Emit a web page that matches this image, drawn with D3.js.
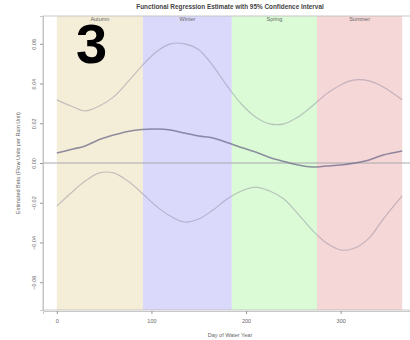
<!DOCTYPE html>
<html>
<head>
<meta charset="utf-8">
<script src="https://cdn.jsdelivr.net/npm/d3@7"></script>
<style>
  html, body { margin: 0; padding: 0; background: #fff; overflow: hidden; }
  svg { display: block; font-family: 'Liberation Sans', Arial, sans-serif; }
</style>
</head>
<body>
<div id="chart"></div>
<script>
// day of water year, sampled along the fitted curve
const days = [0, 15, 30, 45, 60, 75, 90, 105, 120, 135, 150, 165, 180, 195, 210, 225, 240, 255, 270, 285, 300, 315, 330, 345, 365]

const estimate = [0.0050, 0.0068, 0.0086, 0.0118, 0.0141, 0.0159, 0.0169, 0.0171, 0.0166, 0.0151, 0.0136, 0.0126, 0.0103,
  0.0078, 0.0055, 0.0028, 0.0008, -0.0010, -0.0020, -0.0015, -0.0010, 0.0000, 0.0015, 0.0040, 0.0060]

const upperCI = [0.0318, 0.0287, 0.0262, 0.0287, 0.0333, 0.0408, 0.0489, 0.0559, 0.0600, 0.0600, 0.0570, 0.0489, 0.0388,
  0.0297, 0.0232, 0.0197, 0.0197, 0.0232, 0.0287, 0.0348, 0.0393, 0.0418, 0.0413, 0.0383, 0.0318]

const lowerCI = [-0.0217, -0.0151, -0.0091, -0.0050, -0.0050, -0.0091, -0.0151, -0.0217, -0.0267, -0.0297, -0.0282, -0.0237, -0.0181,
  -0.0141, -0.0121, -0.0141, -0.0181, -0.0257, -0.0338, -0.0403, -0.0438, -0.0428, -0.0378, -0.0282, -0.0166]

const seasons = ['Autumn', 'Winter', 'Spring', 'Summer']
const seasonStart = [0, 91, 185, 275]
const seasonEnd = [91, 185, 275, 365]
const seasonColor = ['#f4eed8', '#dad9fb', '#dafbd6', '#f5d7d7']

const xTicks = [0, 100, 200, 300]
const yTicks = [-0.06, -0.04, -0.02, 0, 0.02, 0.04, 0.06]

const W = 410, H = 340
const plot = { left: 43, right: 416, top: 16, bottom: 310 }

const svg = d3.select('#chart').append('svg')
  .attr('width', W).attr('height', H)

// R-style 4% padding on both axes
const xScale = d3.scaleLinear().domain([-14.6, 379.6]).range([plot.left, plot.right])
const yScale = d3.scaleLinear().domain([-0.074, 0.074]).range([plot.bottom, plot.top])

// season shading
svg.append('g').selectAll('rect')
  .data(seasons)
  .join('rect')
  .attr('x', (d, i) => xScale(seasonStart[i]))
  .attr('width', (d, i) => xScale(seasonEnd[i]) - xScale(seasonStart[i]))
  .attr('y', plot.top)
  .attr('height', plot.bottom - plot.top)
  .attr('fill', (d, i) => seasonColor[i])

svg.append('g').selectAll('text')
  .data(seasons)
  .join('text')
  .attr('x', (d, i) => xScale((seasonStart[i] + seasonEnd[i]) / 2))
  .attr('y', plot.top + 5)
  .attr('text-anchor', 'middle')
  .attr('font-size', '5.5px')
  .attr('fill', '#666')
  .text(d => d)

// zero reference
svg.append('line')
  .attr('x1', plot.left).attr('x2', plot.right)
  .attr('y1', yScale(0)).attr('y2', yScale(0))
  .attr('stroke', '#a8a8b0').attr('stroke-width', 1)

const line = arr => d3.line()
  .x((d, i) => xScale(days[i]))
  .y(d => yScale(d))
  .curve(d3.curveCatmullRom)(arr)

svg.append('path').attr('d', line(upperCI))
  .attr('fill', 'none').attr('stroke', '#8a8398').attr('stroke-opacity', 0.45).attr('stroke-width', 1.2)
svg.append('path').attr('d', line(lowerCI))
  .attr('fill', 'none').attr('stroke', '#8a8398').attr('stroke-opacity', 0.45).attr('stroke-width', 1.2)
svg.append('path').attr('d', line(estimate))
  .attr('fill', 'none').attr('stroke', '#6f6a8a').attr('stroke-opacity', 0.75).attr('stroke-width', 1.6)

// frame
svg.append('rect')
  .attr('x', plot.left).attr('y', plot.top)
  .attr('width', plot.right - plot.left).attr('height', plot.bottom - plot.top)
  .attr('fill', 'none').attr('stroke', '#bbb').attr('stroke-width', 0.8)

// axes
const xAxis = svg.append('g')
  .attr('transform', `translate(0,${plot.bottom + 1})`)
  .call(d3.axisBottom(xScale).tickValues(xTicks).tickSize(3).tickPadding(5).tickFormat(d3.format('d')))
const yAxis = svg.append('g')
  .attr('transform', `translate(${plot.left},0)`)
  .call(d3.axisLeft(yScale).tickValues(yTicks).tickSize(3).tickPadding(3).tickFormat(d3.format('.2f')))

yAxis.selectAll('.tick text')
  .attr('transform', function () {
    const t = d3.select(this)
    return `rotate(-90,${t.attr('x')},0)`
  })
  .attr('text-anchor', 'middle')
  .attr('dy', '-0.1em')

function styleAxis(g) {
  g.select('.domain').attr('stroke', '#bbb').attr('stroke-width', 0.8)
  g.selectAll('.tick line').attr('stroke', '#999')
  g.selectAll('text').attr('fill', '#666').attr('font-size', '5.5px')
}
styleAxis(xAxis)
styleAxis(yAxis)

// titles
svg.append('text')
  .attr('x', 230).attr('y', 9)
  .attr('text-anchor', 'middle')
  .attr('font-size', '6.4px').attr('font-weight', 'bold').attr('fill', '#444')
  .text('Functional Regression Estimate with 95% Confidence Interval')

svg.append('text')
  .attr('x', 230).attr('y', 337)
  .attr('text-anchor', 'middle')
  .attr('font-size', '5.5px').attr('fill', '#666')
  .text('Day of Water Year')

svg.append('text')
  .attr('transform', `translate(20,${(plot.top + plot.bottom) / 2}) rotate(-90)`)
  .attr('text-anchor', 'middle')
  .attr('font-size', '5.5px').attr('fill', '#666')
  .text('Estimated Beta (Flow Units per Rain Unit)')

// panel number
svg.append('text')
  .attr('x', 76).attr('y', 63)
  .attr('font-size', '56px').attr('font-weight', 'bold').attr('fill', '#000')
  .text('3')
</script>
</body>
</html>
